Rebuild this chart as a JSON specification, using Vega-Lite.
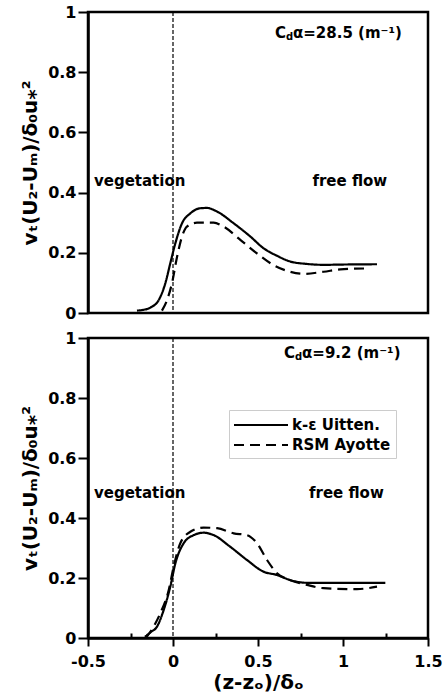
{
  "$schema": "https://vega.github.io/schema/vega-lite/v6.json",
  "padding": {"left": 19, "top": 2, "right": 2, "bottom": 2},
  "bounds": "flush",
  "spacing": 25,
  "config": {
    "font": "DejaVu Sans",
    "view": {"stroke": "black", "strokeWidth": 2.5},
    "axis": {
      "grid": false,
      "domainColor": "black",
      "domainWidth": 2.5,
      "tickColor": "black",
      "tickWidth": 2,
      "labelFont": "DejaVu Sans",
      "labelFontSize": 16,
      "labelFontWeight": "bold",
      "labelColor": "black",
      "titleFont": "DejaVu Sans",
      "titleFontSize": 20,
      "titleFontWeight": "bold",
      "titleColor": "black",
      "labelOverlap": false,
      "labelBound": false,
      "labelFlush": false
    },
    "legend": {
      "labelFont": "DejaVu Sans",
      "labelFontSize": 15,
      "labelFontWeight": "bold",
      "labelColor": "black"
    }
  },
  "resolve": {"scale": {"strokeDash": "independent"}, "legend": {"strokeDash": "independent"}},
  "datasets": {
    "curves": [
      {"panel": "top", "model": "k-ε Uitten.", "x": -0.212, "y": 0.008},
      {"panel": "top", "model": "k-ε Uitten.", "x": -0.18, "y": 0.01},
      {"panel": "top", "model": "k-ε Uitten.", "x": -0.133, "y": 0.018},
      {"panel": "top", "model": "k-ε Uitten.", "x": -0.084, "y": 0.043},
      {"panel": "top", "model": "k-ε Uitten.", "x": -0.045, "y": 0.099},
      {"panel": "top", "model": "k-ε Uitten.", "x": -0.016, "y": 0.165},
      {"panel": "top", "model": "k-ε Uitten.", "x": 0.014, "y": 0.232},
      {"panel": "top", "model": "k-ε Uitten.", "x": 0.053, "y": 0.298},
      {"panel": "top", "model": "k-ε Uitten.", "x": 0.102, "y": 0.331},
      {"panel": "top", "model": "k-ε Uitten.", "x": 0.16, "y": 0.348},
      {"panel": "top", "model": "k-ε Uitten.", "x": 0.2, "y": 0.349},
      {"panel": "top", "model": "k-ε Uitten.", "x": 0.259, "y": 0.337},
      {"panel": "top", "model": "k-ε Uitten.", "x": 0.357, "y": 0.298},
      {"panel": "top", "model": "k-ε Uitten.", "x": 0.455, "y": 0.254},
      {"panel": "top", "model": "k-ε Uitten.", "x": 0.533, "y": 0.215},
      {"panel": "top", "model": "k-ε Uitten.", "x": 0.612, "y": 0.19},
      {"panel": "top", "model": "k-ε Uitten.", "x": 0.69, "y": 0.171},
      {"panel": "top", "model": "k-ε Uitten.", "x": 0.788, "y": 0.163},
      {"panel": "top", "model": "k-ε Uitten.", "x": 0.886, "y": 0.16},
      {"panel": "top", "model": "k-ε Uitten.", "x": 1.0, "y": 0.161},
      {"panel": "top", "model": "k-ε Uitten.", "x": 1.2, "y": 0.162},
      {"panel": "top", "model": "RSM Ayotte", "x": -0.065, "y": 0.008},
      {"panel": "top", "model": "RSM Ayotte", "x": -0.035, "y": 0.043},
      {"panel": "top", "model": "RSM Ayotte", "x": -0.006, "y": 0.099},
      {"panel": "top", "model": "RSM Ayotte", "x": 0.024, "y": 0.187},
      {"panel": "top", "model": "RSM Ayotte", "x": 0.053, "y": 0.254},
      {"panel": "top", "model": "RSM Ayotte", "x": 0.082, "y": 0.287},
      {"panel": "top", "model": "RSM Ayotte", "x": 0.141, "y": 0.3},
      {"panel": "top", "model": "RSM Ayotte", "x": 0.239, "y": 0.3},
      {"panel": "top", "model": "RSM Ayotte", "x": 0.298, "y": 0.287},
      {"panel": "top", "model": "RSM Ayotte", "x": 0.396, "y": 0.243},
      {"panel": "top", "model": "RSM Ayotte", "x": 0.494, "y": 0.198},
      {"panel": "top", "model": "RSM Ayotte", "x": 0.592, "y": 0.159},
      {"panel": "top", "model": "RSM Ayotte", "x": 0.69, "y": 0.137},
      {"panel": "top", "model": "RSM Ayotte", "x": 0.769, "y": 0.13},
      {"panel": "top", "model": "RSM Ayotte", "x": 0.886, "y": 0.137},
      {"panel": "top", "model": "RSM Ayotte", "x": 0.984, "y": 0.145},
      {"panel": "top", "model": "RSM Ayotte", "x": 1.14, "y": 0.148},
      {"panel": "bottom", "model": "k-ε Uitten.", "x": -0.165, "y": 0.004},
      {"panel": "bottom", "model": "k-ε Uitten.", "x": -0.13, "y": 0.02},
      {"panel": "bottom", "model": "k-ε Uitten.", "x": -0.094, "y": 0.038},
      {"panel": "bottom", "model": "k-ε Uitten.", "x": -0.055, "y": 0.093},
      {"panel": "bottom", "model": "k-ε Uitten.", "x": -0.016, "y": 0.171},
      {"panel": "bottom", "model": "k-ε Uitten.", "x": 0.014, "y": 0.249},
      {"panel": "bottom", "model": "k-ε Uitten.", "x": 0.063, "y": 0.316},
      {"panel": "bottom", "model": "k-ε Uitten.", "x": 0.122, "y": 0.343},
      {"panel": "bottom", "model": "k-ε Uitten.", "x": 0.18, "y": 0.351},
      {"panel": "bottom", "model": "k-ε Uitten.", "x": 0.239, "y": 0.343},
      {"panel": "bottom", "model": "k-ε Uitten.", "x": 0.337, "y": 0.304},
      {"panel": "bottom", "model": "k-ε Uitten.", "x": 0.435, "y": 0.26},
      {"panel": "bottom", "model": "k-ε Uitten.", "x": 0.533, "y": 0.221},
      {"panel": "bottom", "model": "k-ε Uitten.", "x": 0.612, "y": 0.21},
      {"panel": "bottom", "model": "k-ε Uitten.", "x": 0.69, "y": 0.193},
      {"panel": "bottom", "model": "k-ε Uitten.", "x": 0.788, "y": 0.184},
      {"panel": "bottom", "model": "k-ε Uitten.", "x": 1.0, "y": 0.184},
      {"panel": "bottom", "model": "k-ε Uitten.", "x": 1.249, "y": 0.184},
      {"panel": "bottom", "model": "RSM Ayotte", "x": -0.16, "y": 0.0},
      {"panel": "bottom", "model": "RSM Ayotte", "x": -0.114, "y": 0.038},
      {"panel": "bottom", "model": "RSM Ayotte", "x": -0.075, "y": 0.082},
      {"panel": "bottom", "model": "RSM Ayotte", "x": -0.025, "y": 0.16},
      {"panel": "bottom", "model": "RSM Ayotte", "x": 0.004, "y": 0.238},
      {"panel": "bottom", "model": "RSM Ayotte", "x": 0.043, "y": 0.316},
      {"panel": "bottom", "model": "RSM Ayotte", "x": 0.102, "y": 0.354},
      {"panel": "bottom", "model": "RSM Ayotte", "x": 0.18, "y": 0.368},
      {"panel": "bottom", "model": "RSM Ayotte", "x": 0.259, "y": 0.366},
      {"panel": "bottom", "model": "RSM Ayotte", "x": 0.357, "y": 0.349},
      {"panel": "bottom", "model": "RSM Ayotte", "x": 0.435, "y": 0.343},
      {"panel": "bottom", "model": "RSM Ayotte", "x": 0.494, "y": 0.316},
      {"panel": "bottom", "model": "RSM Ayotte", "x": 0.553, "y": 0.26},
      {"panel": "bottom", "model": "RSM Ayotte", "x": 0.612, "y": 0.216},
      {"panel": "bottom", "model": "RSM Ayotte", "x": 0.69, "y": 0.193},
      {"panel": "bottom", "model": "RSM Ayotte", "x": 0.788, "y": 0.177},
      {"panel": "bottom", "model": "RSM Ayotte", "x": 0.886, "y": 0.166},
      {"panel": "bottom", "model": "RSM Ayotte", "x": 1.082, "y": 0.163},
      {"panel": "bottom", "model": "RSM Ayotte", "x": 1.2, "y": 0.171}
    ],
    "labels": [
      {"panel": "top", "kind": "main", "text": "vegetation", "x": -0.465, "y": 0.44},
      {"panel": "top", "kind": "main", "text": "free flow", "x": 0.82, "y": 0.44},
      {"panel": "top", "kind": "main", "text": "C", "x": 0.6, "y": 0.93},
      {"panel": "top", "kind": "sub", "text": "d", "x": 0.6, "y": 0.93},
      {"panel": "top", "kind": "rest", "text": "α=28.5 (m⁻¹)", "x": 0.6, "y": 0.93},
      {"panel": "bottom", "kind": "main", "text": "vegetation", "x": -0.465, "y": 0.483},
      {"panel": "bottom", "kind": "main", "text": "free flow", "x": 0.8, "y": 0.483},
      {"panel": "bottom", "kind": "main", "text": "C", "x": 0.653, "y": 0.95},
      {"panel": "bottom", "kind": "sub", "text": "d", "x": 0.653, "y": 0.95},
      {"panel": "bottom", "kind": "rest", "text": "α=9.2 (m⁻¹)", "x": 0.653, "y": 0.95}
    ]
  },
  "vconcat": [
    {
      "width": 340,
      "height": 301,
      "layer": [
        {
          "data": {"values": [{"x": 0}]},
          "mark": {"type": "rule", "strokeDash": [4, 2], "strokeWidth": 1.2, "color": "black"},
          "encoding": {"x": {"field": "x", "type": "quantitative", "scale": {"domain": [-0.5, 1.5], "nice": false}, "axis": null}}
        },
        {
          "data": {"name": "curves"},
          "transform": [{"filter": "datum.panel == 'top'"}],
          "mark": {"type": "line", "interpolate": "monotone", "color": "black", "strokeWidth": 2.2},
          "encoding": {
            "x": {"field": "x", "type": "quantitative", "scale": {"domain": [-0.5, 1.5], "nice": false}, "axis": null},
            "y": {"field": "y", "type": "quantitative", "scale": {"domain": [0, 1], "nice": false},
              "axis": {
                "title": "vₜ(U₂-Uₘ)/δ₀u⁎²",
                "values": [0, 0.1, 0.2, 0.3, 0.4, 0.5, 0.6, 0.7, 0.8, 0.9, 1],
                "format": "~g",
                "labelExpr": "round(datum.value*10)%2==0 ? datum.label : ''",
                "tickSize": {"condition": {"test": "round(datum.value*10)%2==0", "value": 10}, "value": 4},
                "labelPadding": 2,
                "titlePadding": 7
              }
            },
            "strokeDash": {"field": "model", "type": "nominal", "scale": {"domain": ["k-ε Uitten.", "RSM Ayotte"], "range": [[1, 0], [10, 6]]}, "legend": null}
          }
        },
        {
          "data": {"name": "labels"},
          "transform": [{"filter": "datum.panel == 'top' && datum.kind == 'main'"}],
          "mark": {"type": "text", "align": "left", "baseline": "middle", "fontSize": 15, "fontWeight": "bold", "color": "black"},
          "encoding": {"x": {"field": "x", "type": "quantitative"}, "y": {"field": "y", "type": "quantitative"}, "text": {"field": "text"}}
        },
        {
          "data": {"name": "labels"},
          "transform": [{"filter": "datum.panel == 'top' && datum.kind == 'sub'"}],
          "mark": {"type": "text", "align": "left", "baseline": "middle", "fontSize": 10, "fontWeight": "bold", "color": "black", "dx": 11, "dy": 4},
          "encoding": {"x": {"field": "x", "type": "quantitative"}, "y": {"field": "y", "type": "quantitative"}, "text": {"field": "text"}}
        },
        {
          "data": {"name": "labels"},
          "transform": [{"filter": "datum.panel == 'top' && datum.kind == 'rest'"}],
          "mark": {"type": "text", "align": "left", "baseline": "middle", "fontSize": 15, "fontWeight": "bold", "color": "black", "dx": 18},
          "encoding": {"x": {"field": "x", "type": "quantitative"}, "y": {"field": "y", "type": "quantitative"}, "text": {"field": "text"}}
        }
      ]
    },
    {
      "width": 340,
      "height": 300,
      "layer": [
        {
          "data": {"values": [{"x": 0}]},
          "mark": {"type": "rule", "strokeDash": [4, 2], "strokeWidth": 1.2, "color": "black"},
          "encoding": {"x": {"field": "x", "type": "quantitative", "scale": {"domain": [-0.5, 1.5], "nice": false}}}
        },
        {
          "data": {"name": "curves"},
          "transform": [{"filter": "datum.panel == 'bottom'"}],
          "mark": {"type": "line", "interpolate": "monotone", "color": "black", "strokeWidth": 2.2},
          "encoding": {
            "x": {"field": "x", "type": "quantitative", "scale": {"domain": [-0.5, 1.5], "nice": false},
              "axis": {
                "title": "(z-zₒ)/δₒ",
                "values": [-0.5, -0.25, 0, 0.25, 0.5, 0.75, 1, 1.25, 1.5],
                "format": "~g",
                "labelExpr": "round(datum.value*4)%2==0 ? replace(datum.label, '−', '-') : ''",
                "tickSize": {"condition": {"test": "round(datum.value*4)%2==0", "value": 8}, "value": -5},
                "labelPadding": 7,
                "titlePadding": 3
              }
            },
            "y": {"field": "y", "type": "quantitative", "scale": {"domain": [0, 1], "nice": false},
              "axis": {
                "title": "vₜ(U₂-Uₘ)/δ₀u⁎²",
                "values": [0, 0.1, 0.2, 0.3, 0.4, 0.5, 0.6, 0.7, 0.8, 0.9, 1],
                "format": "~g",
                "labelExpr": "round(datum.value*10)%2==0 ? datum.label : ''",
                "tickSize": {"condition": {"test": "round(datum.value*10)%2==0", "value": 10}, "value": 4},
                "labelPadding": 2,
                "titlePadding": 7
              }
            },
            "strokeDash": {"field": "model", "type": "nominal", "scale": {"domain": ["k-ε Uitten.", "RSM Ayotte"], "range": [[1, 0], [10, 6]]},
              "legend": {
                "title": null,
                "orient": "none",
                "legendX": 141,
                "legendY": 72,
                "symbolType": "M-3,0H3",
                "symbolSize": 324,
                "symbolStrokeColor": "black",
                "symbolStrokeWidth": 2,
                "symbolOffset": 17,
                "labelOffset": 21,
                "padding": 5,
                "rowPadding": 2,
                "strokeColor": "#cccccc",
                "fillColor": "white"
              }
            }
          }
        },
        {
          "data": {"name": "labels"},
          "transform": [{"filter": "datum.panel == 'bottom' && datum.kind == 'main'"}],
          "mark": {"type": "text", "align": "left", "baseline": "middle", "fontSize": 15, "fontWeight": "bold", "color": "black"},
          "encoding": {"x": {"field": "x", "type": "quantitative"}, "y": {"field": "y", "type": "quantitative"}, "text": {"field": "text"}}
        },
        {
          "data": {"name": "labels"},
          "transform": [{"filter": "datum.panel == 'bottom' && datum.kind == 'sub'"}],
          "mark": {"type": "text", "align": "left", "baseline": "middle", "fontSize": 10, "fontWeight": "bold", "color": "black", "dx": 11, "dy": 4},
          "encoding": {"x": {"field": "x", "type": "quantitative"}, "y": {"field": "y", "type": "quantitative"}, "text": {"field": "text"}}
        },
        {
          "data": {"name": "labels"},
          "transform": [{"filter": "datum.panel == 'bottom' && datum.kind == 'rest'"}],
          "mark": {"type": "text", "align": "left", "baseline": "middle", "fontSize": 15, "fontWeight": "bold", "color": "black", "dx": 18},
          "encoding": {"x": {"field": "x", "type": "quantitative"}, "y": {"field": "y", "type": "quantitative"}, "text": {"field": "text"}}
        }
      ]
    }
  ]
}
